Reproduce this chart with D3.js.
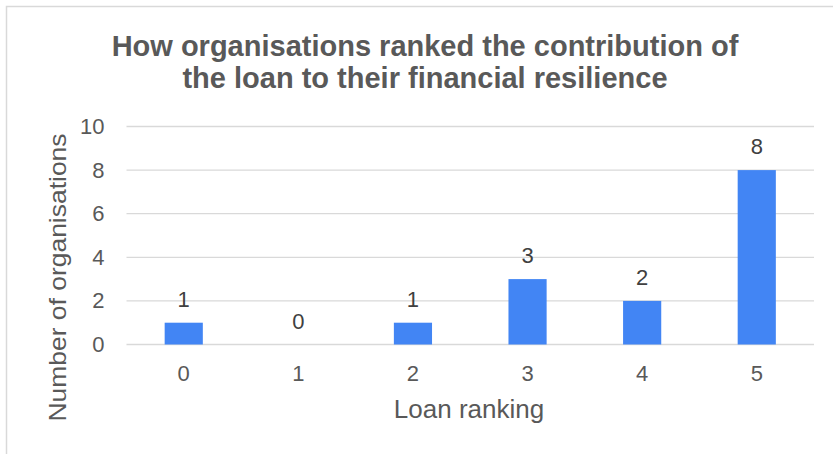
<!DOCTYPE html>
<html>
<head>
<meta charset="utf-8">
<script src="https://cdn.jsdelivr.net/npm/d3@7"></script>
<style>
  html, body { margin: 0; padding: 0; background: #fff; }
  svg { display: block; font-family: Arial, "Liberation Sans", sans-serif; }
</style>
</head>
<body>
<svg id="chart" width="833" height="454"></svg>
<script>
// Ranking categories and counts of organisations
const rankings = ["0", "1", "2", "3", "4", "5"];
const counts = [1, 0, 1, 3, 2, 8];
const yTicks = [0, 2, 4, 6, 8, 10];
const titleLines = [
  "How organisations ranked the contribution of",
  "the loan to their financial resilience"
];
const xTitle = "Loan ranking";
const yTitle = "Number of organisations";

const svg = d3.select("#chart");
const W = 833, H = 454;
const plot = { left: 126.5, right: 814, top: 126.5, bottom: 344.5 };
const textColor = "#595959";
const fontFamily = "Arial, 'Liberation Sans', sans-serif";

// chart frame
svg.append("rect")
  .attr("x", 6.5).attr("y", 6.5)
  .attr("width", W + 20).attr("height", H + 20)
  .attr("fill", "#fff").attr("stroke", "#d9d9d9").attr("stroke-width", 1.5);

const x = d3.scaleBand().domain(rankings).range([plot.left, plot.right]).paddingInner(0.667).paddingOuter(0.333);
const y = d3.scaleLinear().domain([0, 10]).range([plot.bottom, plot.top]);

// gridlines
svg.append("g").selectAll("line").data(yTicks).join("line")
  .attr("x1", plot.left).attr("x2", plot.right)
  .attr("y1", d => y(d)).attr("y2", d => y(d))
  .attr("stroke", "#d9d9d9").attr("stroke-width", 1.3);

// y axis labels
const yAxis = d3.axisLeft(y).tickValues(yTicks).tickSize(0).tickPadding(0);
svg.append("g").attr("transform", `translate(${plot.left - 22},0)`).call(yAxis)
  .call(g => g.select(".domain").remove())
  .selectAll("text").attr("fill", textColor).attr("font-size", 22)
  .attr("font-family", fontFamily);

// x axis labels
const xAxis = d3.axisBottom(x).tickSize(0).tickPadding(0);
svg.append("g").attr("transform", `translate(0,${plot.bottom + 21})`).call(xAxis)
  .call(g => g.select(".domain").remove())
  .selectAll("text").attr("fill", textColor).attr("font-size", 22)
  .attr("font-family", fontFamily);

// bars
svg.append("g").selectAll("rect").data(counts).join("rect")
  .attr("x", (d, i) => x(rankings[i]))
  .attr("width", x.bandwidth())
  .attr("y", d => y(d))
  .attr("height", d => y(0) - y(d))
  .attr("fill", "#4285f4");

// value labels
svg.append("g").selectAll("text").data(counts).join("text")
  .attr("x", (d, i) => x(rankings[i]) + x.bandwidth() / 2)
  .attr("y", d => y(d) - 16)
  .attr("text-anchor", "middle")
  .attr("fill", "#404040").attr("font-size", 22)
  .text(d => d);

// title
svg.append("g").selectAll("text").data(titleLines).join("text")
  .attr("x", 425).attr("y", (d, i) => 56 + i * 32)
  .attr("text-anchor", "middle")
  .attr("fill", textColor).attr("font-size", 29).attr("font-weight", "bold")
  .text(d => d);

// axis titles
svg.append("text")
  .attr("x", 469).attr("y", 418)
  .attr("text-anchor", "middle")
  .attr("fill", textColor).attr("font-size", 26)
  .text(xTitle);

svg.append("text")
  .attr("transform", `translate(66,277.5) rotate(-90)`)
  .attr("text-anchor", "middle")
  .attr("fill", textColor).attr("font-size", 24)
  .attr("textLength", 288).attr("lengthAdjust", "spacingAndGlyphs")
  .text(yTitle);
</script>
</body>
</html>
